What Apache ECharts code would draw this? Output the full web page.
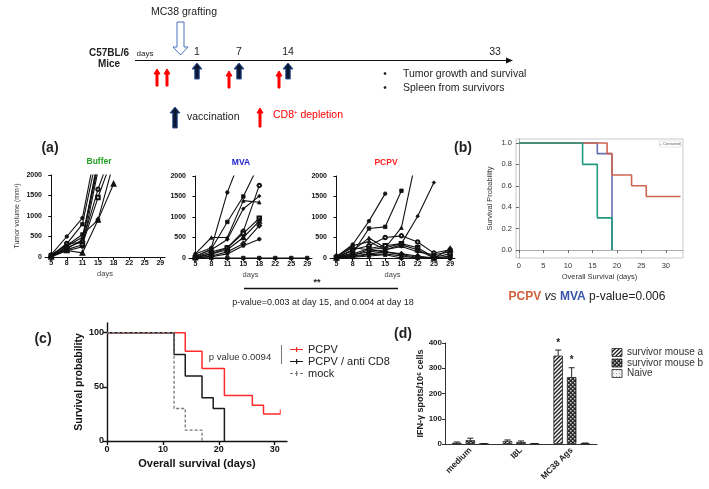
<!DOCTYPE html>
<html><head><meta charset="utf-8">
<script src="https://cdn.jsdelivr.net/npm/echarts@6/dist/echarts.min.js"></script>
<style>html,body{margin:0;padding:0;background:#fff}#c{width:709px;height:489px}</style>
</head><body><div id="c"></div>
<script>
const FONT = '"Liberation Sans", Arial, sans-serif';

// ---------- Timeline schematic ----------
const timelineLabels = ['1', '7', '14', '33'];
const bulletTexts = ['Tumor growth and survival', 'Spleen from survivors'];

// ---------- (a) tumor growth ----------
const tumorDays = ['5', '8', '11', '15', '18', '22', '25', '29'];
const tumorTicks = [0, 500, 1000, 1500, 2000];
const bufferMice = [
  [60, 500, 950, 2900],
  [40, 320, 800, 2600],
  [20, 260, 480, 2300],
  [10, 200, 420, 2200],
  [30, 330, 350, 1650, 2700],
  [20, 180, 300, 1450, 2500],
  [0, 160, 100, 900, 1780],
  [10, 230, 380, 2400],
  [30, 150, 250, 2100],
  [50, 280, 550, 900, 2300]
];
const mvaMice = [
  [100, 250, 1600, 2600],
  [30, 220, 880, 1500, 2300],
  [100, 500, 500, 1400, 1360],
  [50, 200, 450, 1200, 1510],
  [20, 150, 250, 650, 1770],
  [10, 100, 250, 600, 970],
  [10, 100, 200, 500, 900],
  [0, 50, 150, 350, 790],
  [0, 30, 100, 300, 460],
  [0, 0, 0, 0, 0, 0, 0, 0]
];
const pcpvMice = [
  [30, 330, 900, 1570],
  [20, 120, 720, 760, 1640],
  [10, 180, 490, 250, 740, 2600],
  [0, 60, 200, 250, 350, 1020, 1840],
  [20, 200, 300, 500, 540, 390, 120, 200],
  [10, 100, 230, 300, 350, 250, 20, 100],
  [0, 80, 150, 200, 320, 200, 0, 220],
  [50, 250, 200, 150, 100, 50, 0, 0],
  [10, 50, 100, 150, 80, 20, 0, 0],
  [0, 30, 80, 100, 50, 0, 0, 50],
  [0, 20, 50, 80, 0, 0, 0, 0],
  [5, 300, 400, 200, 280, 150, 80, 150]
];

// ---------- (b) Kaplan-Meier ----------
const kmB_days = [0, 5, 10, 15, 20, 25, 30];
const kmB_probTicks = [0, 0.2, 0.4, 0.6, 0.8, 1.0];
const kmB_PCPV = [[0, 1], [18, 0.9], [19, 0.7], [23, 0.6], [26, 0.5], [33, 0.5]];
const kmB_MVA = [[0, 1], [16, 0.9], [19, 0]];
const kmB_Buffer = [[0, 1], [13, 0.8], [16, 0.3], [19, 0]];

// ---------- (c) Kaplan-Meier ----------
const kmC_days = [0, 10, 20, 30];
const kmC_ticks = [0, 50, 100];
const kmC_PCPV = [[0, 100], [14, 83], [17, 67], [21, 42], [26, 33], [28, 25], [31, 25]];
const kmC_CD8 = [[0, 100], [12, 80], [14, 60], [17, 40], [19, 30], [21, 0]];
const kmC_mock = [[0, 100], [12, 30], [14, 10], [17, 0]];
const kmC_censored = [[31, 25]];

// ---------- (d) ELISpot ----------
const elispotCats = ['medium', 'I8L', 'MC38 Ags'];
const mouseA = [5, 12, 350];
const mouseAErr = [3, 4, 22];
const mouseB = [15, 8, 265];
const mouseBErr = [8, 4, 37];
const naive = [1, 1, 3];
const naiveErr = [1, 1, 1];
const sigA = ['', '', '*'];
const sigB = ['', '', '*'];

// ---------- patterns ----------
function pat(w, h, draw) {
  const c = document.createElement('canvas'); c.width = w; c.height = h;
  draw(c.getContext('2d'), w, h); return c;
}
const hatch = pat(4, 4, g => {
  g.fillStyle = '#fff'; g.fillRect(0, 0, 4, 4);
  g.strokeStyle = '#1a1a1a'; g.lineWidth = 1.3; g.beginPath();
  g.moveTo(0, 4); g.lineTo(4, 0); g.moveTo(-1, 1); g.lineTo(1, -1); g.moveTo(3, 5); g.lineTo(5, 3);
  g.stroke();
});
const checker = pat(4, 4, g => {
  g.fillStyle = '#2a2a2a'; g.fillRect(0, 0, 4, 4);
  g.fillStyle = '#cfcfcf'; g.fillRect(0, 0, 1.5, 1.5); g.fillRect(2, 2, 1.5, 1.5);
});
const dots = pat(3, 3, g => {
  g.fillStyle = '#f2f2f2'; g.fillRect(0, 0, 3, 3);
  g.fillStyle = '#aaa'; g.fillRect(1, 1, 1, 1);
});

// ---------- helpers ----------
const symbols = ['circle', 'rect', 'triangle', 'diamond', 'emptyCircle', 'emptyRect', 'emptyTriangle', 'emptyDiamond'];
const tumorGrids = [
  { left: 45, top: 175, width: 120, height: 82 },
  { left: 189, top: 176, width: 123, height: 82 },
  { left: 330, top: 176, width: 125, height: 82 }
];
const grids = tumorGrids.concat([
  { left: 516, top: 139, width: 167, height: 119, show: true, borderColor: '#bbb', borderWidth: 0.8 },
  { left: 107, top: 323, width: 180, height: 118 },
  { left: 445, top: 343, width: 152, height: 101 }
]);

const xAxes = [], yAxes = [], series = [];
const tickIdx = tumorDays.map((d, i) => i);
tumorGrids.forEach((g, k) => {
  xAxes.push({
    gridIndex: k, type: 'value', min: -0.4, max: 7.3,
    axisLine: { lineStyle: { color: '#111', width: 1 } },
    axisTick: { customValues: tickIdx, length: 3, lineStyle: { color: '#111' } },
    axisLabel: { customValues: tickIdx, formatter: v => tumorDays[Math.round(v)], fontSize: 7, fontWeight: 'bold', color: '#111', margin: 3, fontFamily: FONT },
    splitLine: { show: false },
    name: 'days', nameLocation: 'middle', nameGap: 13, nameTextStyle: { fontSize: 7.5, color: '#444', fontFamily: FONT }
  });
  yAxes.push({
    gridIndex: k, type: 'value', min: 0, max: 2000,
    axisLine: { show: true, lineStyle: { color: '#111', width: 1 } },
    axisTick: { show: true, customValues: tumorTicks, length: 3, lineStyle: { color: '#111' } },
    axisLabel: { customValues: tumorTicks, formatter: v => String(v), fontSize: 7, fontWeight: 'bold', color: '#111', margin: 3, fontFamily: FONT },
    splitLine: { show: false },
    name: k === 0 ? 'Tumor volume (mm³)' : '', nameLocation: 'middle', nameGap: 24, nameRotate: 90,
    nameTextStyle: { fontSize: 7, color: '#333', fontFamily: FONT }
  });
});
[bufferMice, mvaMice, pcpvMice].forEach((group, k) => {
  group.forEach((vals, j) => {
    series.push({
      type: 'line', xAxisIndex: k, yAxisIndex: k, clip: true,
      data: vals.map((v, i) => [i, v]),
      symbol: symbols[j % symbols.length], symbolSize: 3.5,
      lineStyle: { color: '#111', width: 1.1 },
      itemStyle: { color: '#111', borderColor: '#111', borderWidth: 0.8 },
      silent: true, animation: false
    });
  });
});

// (b)
xAxes.push({
  gridIndex: 3, type: 'value', min: -0.6, max: 33.5,
  axisLine: { lineStyle: { color: '#999', width: 0.8 } },
  axisTick: { customValues: kmB_days, length: 3, lineStyle: { color: '#666' } },
  axisLabel: { customValues: kmB_days, fontSize: 7.5, color: '#333', margin: 4, fontFamily: FONT },
  splitLine: { show: false },
  name: 'Overall Survival (days)', nameLocation: 'middle', nameGap: 15,
  nameTextStyle: { fontSize: 7.5, color: '#333', fontFamily: FONT }
});
yAxes.push({
  gridIndex: 3, type: 'value', min: -0.075, max: 1.037,
  axisLine: { show: true, lineStyle: { color: '#999', width: 0.8 } },
  axisTick: { show: true, customValues: kmB_probTicks, length: 3, lineStyle: { color: '#666' } },
  axisLabel: { customValues: kmB_probTicks, formatter: v => v.toFixed(1), fontSize: 7.5, color: '#333', margin: 4, fontFamily: FONT },
  splitLine: { show: false },
  name: 'Survival Probability', nameLocation: 'middle', nameGap: 22,
  nameTextStyle: { fontSize: 7.5, color: '#333', fontFamily: FONT }
});
[[kmB_MVA, '#6670b3'], [kmB_PCPV, '#d0654f'], [kmB_Buffer, '#229a80']].forEach(([d, col]) => {
  series.push({ type: 'line', xAxisIndex: 3, yAxisIndex: 3, step: 'end', data: d, symbol: 'none',
    lineStyle: { color: col, width: 1.6 }, silent: true, animation: false });
});

// (c)
xAxes.push({
  gridIndex: 4, type: 'value', min: 0, max: 32.2,
  axisLine: { lineStyle: { color: '#111', width: 1.4 } },
  axisTick: { customValues: kmC_days, length: 4, lineStyle: { color: '#111', width: 1.4 } },
  axisLabel: { customValues: kmC_days, fontSize: 9, fontWeight: 'bold', color: '#111', margin: 4, fontFamily: FONT },
  splitLine: { show: false },
  name: 'Overall survival (days)', nameLocation: 'middle', nameGap: 17,
  nameTextStyle: { fontSize: 11, fontWeight: 'bold', color: '#111', fontFamily: FONT }
});
yAxes.push({
  gridIndex: 4, type: 'value', min: 0, max: 109,
  axisLine: { show: true, lineStyle: { color: '#111', width: 1.4 } },
  axisTick: { show: true, customValues: kmC_ticks, length: 4, lineStyle: { color: '#111', width: 1.4 } },
  axisLabel: { customValues: kmC_ticks, fontSize: 9, fontWeight: 'bold', color: '#111', margin: 3, fontFamily: FONT },
  splitLine: { show: false },
  name: 'Survival probability', nameLocation: 'middle', nameGap: 20,
  nameTextStyle: { fontSize: 10.5, fontWeight: 'bold', color: '#111', fontFamily: FONT }
});
series.push({ name: 'PCPV', type: 'line', xAxisIndex: 4, yAxisIndex: 4, step: 'end', data: kmC_PCPV, symbol: 'none',
  lineStyle: { color: '#ff2a2a', width: 1.5 }, itemStyle: { color: '#ff2a2a' }, silent: true, animation: false });
series.push({ name: 'PCPV / anti CD8', type: 'line', xAxisIndex: 4, yAxisIndex: 4, step: 'end', data: kmC_CD8, symbol: 'none',
  lineStyle: { color: '#1a1a1a', width: 1.5 }, itemStyle: { color: '#1a1a1a' }, silent: true, animation: false });
series.push({ name: 'mock', type: 'line', xAxisIndex: 4, yAxisIndex: 4, step: 'end', data: kmC_mock, symbol: 'none',
  lineStyle: { color: '#777', width: 1.3, type: [3, 2] }, itemStyle: { color: '#777' }, silent: true, animation: false });
series.push({ type: 'scatter', xAxisIndex: 4, yAxisIndex: 4, data: kmC_censored, symbol: 'rect', symbolSize: [1.2, 5],
  symbolOffset: [0, -2], itemStyle: { color: '#ff2a2a' }, silent: true, animation: false });

// (d)
xAxes.push({
  gridIndex: 5, type: 'category', data: elispotCats,
  axisLine: { lineStyle: { color: '#333', width: 1 } },
  axisTick: { show: false },
  axisLabel: { rotate: 45, fontSize: 8.5, fontWeight: 'bold', color: '#222', margin: 5, fontFamily: FONT }
});
yAxes.push({
  gridIndex: 5, type: 'value', min: 0, max: 400, interval: 100,
  axisLine: { show: true, lineStyle: { color: '#333', width: 1 } },
  axisTick: { show: true, length: 3, lineStyle: { color: '#333' } },
  axisLabel: { fontSize: 8, fontWeight: 'bold', color: '#222', margin: 3, fontFamily: FONT },
  splitLine: { show: false },
  name: 'IFN-γ spots/10⁶ cells', nameLocation: 'middle', nameGap: 20,
  nameTextStyle: { fontSize: 9, fontWeight: 'bold', color: '#222', fontFamily: FONT }
});
const BAR_W = 9.5, BAR_GAP = 0.42;
const barDefs = [
  ['survivor mouse a', mouseA, mouseAErr, hatch, sigA],
  ['survivor mouse b', mouseB, mouseBErr, checker, sigB],
  ['Naive', naive, naiveErr, dots, null]
];
barDefs.forEach(([name, vals], i) => {
  series.push({
    name, type: 'bar', xAxisIndex: 5, yAxisIndex: 5, data: vals, barWidth: BAR_W, barGap: (BAR_GAP * 100) + '%',
    itemStyle: { color: { image: barDefs[i][3], repeat: 'repeat' }, borderColor: '#222', borderWidth: 0.8 },
    silent: true, animation: false
  });
});
barDefs.forEach(([name, vals, errs, p, sig], i) => {
  const off = (i - 1) * BAR_W * (1 + BAR_GAP);
  series.push({
    type: 'custom', xAxisIndex: 5, yAxisIndex: 5, silent: true, animation: false,
    data: vals.map((v, j) => [j, v, errs[j]]),
    renderItem(params, api) {
      const j = api.value(0), v = api.value(1), e = api.value(2);
      const base = api.coord([j, v]), top = api.coord([j, v + e]);
      const cx = base[0] + off;
      const ch = [
        { type: 'line', shape: { x1: cx, y1: base[1], x2: cx, y2: top[1] }, style: { stroke: '#222', lineWidth: 1 } },
        { type: 'line', shape: { x1: cx - 3, y1: top[1], x2: cx + 3, y2: top[1] }, style: { stroke: '#222', lineWidth: 1 } }
      ];
      if (sig && sig[j]) ch.push({ type: 'text', style: { text: sig[j], x: cx, y: top[1] - 2, textAlign: 'center', textVerticalAlign: 'bottom', font: 'bold 10px ' + FONT, fill: '#222' } });
      return { type: 'group', children: ch };
    }
  });
});

// ---------- graphic (schematic & annotations) ----------
const G = [];
function txt(text, x, y, opt) {
  G.push(Object.assign({ type: 'text', silent: true, style: Object.assign({ text, x, y, textAlign: 'center', textVerticalAlign: 'middle', fill: '#222', font: '10px ' + FONT }, opt || {}) }));
}
function upArrow(cx, tip, base, headW, headH, shaftW, fill, stroke) {
  G.push({ type: 'polygon', silent: true, shape: { points: [
    [cx, tip], [cx + headW / 2, tip + headH], [cx + shaftW / 2, tip + headH], [cx + shaftW / 2, base],
    [cx - shaftW / 2, base], [cx - shaftW / 2, tip + headH], [cx - headW / 2, tip + headH]] },
    style: { fill, stroke: stroke || fill, lineWidth: 1 } });
}
// timeline
txt('MC38 grafting', 184, 12, { font: '10.5px ' + FONT });
G.push({ type: 'polygon', silent: true, shape: { points: [[177, 22], [184, 22], [184, 47], [188, 47], [180.5, 55], [173, 47], [177, 47]] },
  style: { fill: '#fff', stroke: '#4a72c0', lineWidth: 1 } });
txt('C57BL/6', 109, 53, { font: 'bold 10px ' + FONT });
txt('Mice', 109, 64, { font: 'bold 10px ' + FONT });
txt('days', 145, 54, { font: '8px ' + FONT });
G.push({ type: 'line', silent: true, shape: { x1: 135, y1: 60.5, x2: 508, y2: 60.5 }, style: { stroke: '#111', lineWidth: 1 } });
G.push({ type: 'polygon', silent: true, shape: { points: [[513, 60.5], [506, 57.5], [506, 63.5]] }, style: { fill: '#111' } });
const tlX = [197, 239, 288, 495];
timelineLabels.forEach((l, i) => txt(l, tlX[i], 52.5, { font: '10.5px ' + FONT }));
[197, 239, 288].forEach(x => upArrow(x, 63, 79, 10, 6, 4.5, '#0b1733', '#2f5597'));
[157, 167, 229, 279].forEach((x, i) => upArrow(x, i < 2 ? 69 : 71, i < 2 ? 86 : 88, 6, 5, 2, '#ff0000'));
bulletTexts.forEach((t, i) => {
  txt('•', 385, 74 + i * 14, { font: '10px ' + FONT });
  txt(t, 403, 74 + i * 14, { textAlign: 'left', font: '10.5px ' + FONT });
});
upArrow(175, 107, 128, 10, 6, 4.5, '#0b1733', '#2f5597');
txt('vaccination', 187, 117, { textAlign: 'left', font: '10.5px ' + FONT });
upArrow(260, 108, 127, 6, 5, 2, '#ff0000');
G.push({ type: 'text', silent: true, style: { text: '{a|CD8}{s|+}{a| depletion}', x: 273, y: 115, textVerticalAlign: 'middle',
  rich: { a: { fontSize: 10.5, fill: '#ff0000', fontFamily: FONT }, s: { fontSize: 6, fill: '#ff0000', verticalAlign: 'top', padding: [0, 0, 6, 0], fontFamily: FONT } } } });

// panel labels
txt('(a)', 50, 148, { font: 'bold 14px ' + FONT });
txt('(b)', 463, 148, { font: 'bold 14px ' + FONT });
txt('(c)', 43, 339, { font: 'bold 14px ' + FONT });
txt('(d)', 403, 334, { font: 'bold 14px ' + FONT });
txt('Buffer', 99, 162, { font: 'bold 8.5px ' + FONT, fill: '#22a022' });
txt('MVA', 241, 163, { font: 'bold 8.5px ' + FONT, fill: '#2222cc' });
txt('PCPV', 386, 163, { font: 'bold 8.5px ' + FONT, fill: '#ff2020' });
txt('**', 317, 283, { font: 'bold 9px ' + FONT });
G.push({ type: 'line', silent: true, shape: { x1: 244, y1: 288.5, x2: 398, y2: 288.5 }, style: { stroke: '#111', lineWidth: 1.6 } });
txt('p-value=0.003 at day 15, and 0.004 at day 18', 323, 303, { font: '9px ' + FONT });
// (b) caption & legend
G.push({ type: 'text', silent: true, style: { text: '{a|PCPV} {b|vs} {c|MVA} {d|p-value=0.006}', x: 587, y: 297, textAlign: 'center', textVerticalAlign: 'middle',
  rich: {
    a: { fontSize: 12, fontWeight: 'bold', fill: '#d0603a', fontFamily: FONT },
    b: { fontSize: 12, fontStyle: 'italic', fill: '#222', fontFamily: FONT },
    c: { fontSize: 12, fontWeight: 'bold', fill: '#3a56a8', fontFamily: FONT },
    d: { fontSize: 12, fill: '#222', fontFamily: FONT }
  } } });
G.push({ type: 'rect', silent: true, shape: { x: 659, y: 141, width: 22, height: 6 }, style: { fill: '#fff', stroke: '#ccc', lineWidth: 0.5 } });
txt('+ Censored', 670, 144, { font: '4px ' + FONT, fill: '#555' });
// (c)
txt('p value 0.0094', 240, 357, { font: '9.5px ' + FONT, fill: '#333' });
G.push({ type: 'line', silent: true, shape: { x1: 281.5, y1: 345, x2: 281.5, y2: 364 }, style: { stroke: '#555', lineWidth: 0.8 } });
// (d) legend with patterned swatches
barDefs.forEach(([name, , , p], i) => {
  const y = 352.5 + i * 10.5;
  G.push({ type: 'rect', silent: true, shape: { x: 612, y: y - 4, width: 10, height: 8 },
    style: { fill: { image: p, repeat: 'repeat' }, stroke: '#222', lineWidth: 0.8 } });
  txt(name, 627, y, { textAlign: 'left', font: '10px ' + FONT, fill: '#333' });
});

const lineIcon = 'path://M0,3.4h13v1.2h-13z M6,1.5h1.2v5h-1.2z';
const dashIcon = 'path://M0,3.4h3v1.2h-3z M5,3.4h3v1.2h-3z M10,3.4h3v1.2h-3z M6,1.5h1.2v5h-1.2z';
const option = {
  animation: false,
  textStyle: { fontFamily: FONT },
  grid: grids,
  xAxis: xAxes,
  yAxis: yAxes,
  legend: [
    { data: [{ name: 'PCPV', icon: lineIcon }, { name: 'PCPV / anti CD8', icon: lineIcon }, { name: 'mock', icon: dashIcon }],
      left: 285, top: 339, orient: 'vertical', itemWidth: 13, itemHeight: 6, itemGap: 1,
      textStyle: { fontSize: 11, lineHeight: 11, color: '#222', fontFamily: FONT }, selectedMode: false }
  ],
  series,
  graphic: G
};
const chart = echarts.init(document.getElementById('c'));
chart.setOption(option);
</script>
</body></html>
